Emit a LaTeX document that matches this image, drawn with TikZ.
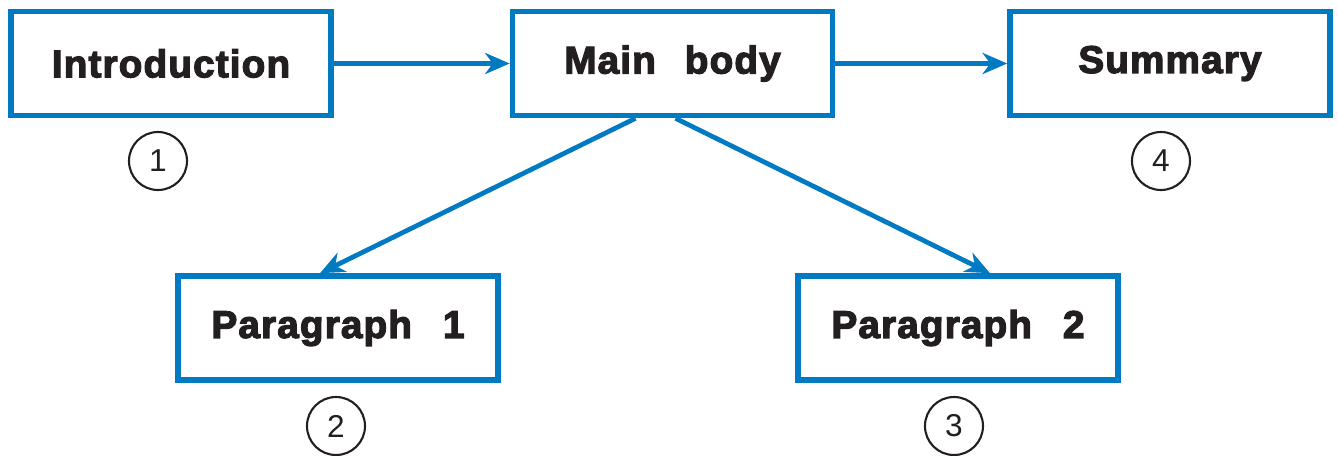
\documentclass[tikz,border=0pt]{standalone}
\usepackage{fontspec}
\setmainfont{Liberation Sans}
\newfontfamily\boxfont[LetterSpace=3,FakeBold=3.2]{Liberation Sans Bold}
\usetikzlibrary{arrows.meta}
\definecolor{boxblue}{RGB}{0,122,195}
\definecolor{textblack}{RGB}{35,31,32}
\begin{document}
\begin{tikzpicture}[
    partbox/.style={draw=boxblue, line width=1.6pt, minimum width=3.2cm, minimum height=1.04cm, inner sep=0pt, text=textblack, font=\boxfont\fontsize{11}{12}\selectfont},
    numcircle/.style={draw=textblack, circle, line width=0.6pt, minimum size=0.58cm, inner sep=0pt, text=textblack, font=\fontsize{9}{10}\selectfont},
    flow/.style={draw=boxblue, line width=1.35pt, -{Stealth[length=7pt, width=6pt, inset=2.2pt]}}
  ]
  \useasboundingbox (0, 0) rectangle (13.38, 4.55);
  \node[partbox] (intro) at (1.71, 3.915) {Introduction};
  \node[partbox] (main) at (6.725, 3.915) {Main\hspace{0.75em}body};
  \node[partbox] (summary) at (11.70, 3.915) {Summary};
  \node[partbox] (para1) at (3.38, 1.27) {Paragraph\hspace{0.8em}1};
  \node[partbox] (para2) at (9.58, 1.27) {Paragraph\hspace{0.8em}2};
  \node[numcircle] (n1) at (1.58, 2.94) {1};
  \node[numcircle] (n4) at (11.61, 2.94) {4};
  \node[numcircle] (n2) at (3.36, 0.29) {2};
  \node[numcircle] (n3) at (9.54, 0.29) {3};
  \draw[flow] (intro) -- (main);
  \draw[flow] (main) -- (summary);
  \draw[flow] ([xshift=-0.37cm]main.south) -- ([xshift=-0.18cm]para1.north);
  \draw[flow] ([xshift=0.03cm]main.south) -- ([xshift=0.32cm]para2.north);
\end{tikzpicture}
\end{document}
